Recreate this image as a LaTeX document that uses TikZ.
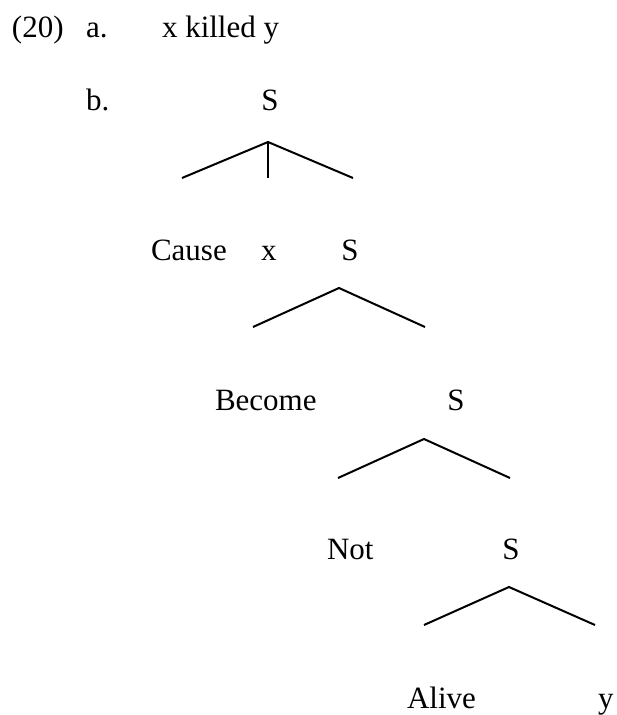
\documentclass[tikz,border=0pt]{standalone}
\usepackage{fontspec}
\setmainfont{Liberation Serif}
\begin{document}
\begin{tikzpicture}[x=1pt,y=-1pt,
  txt/.style={inner sep=0pt, outer sep=0pt, font=\fontsize{31}{36}\selectfont},
  lbl/.style={txt, anchor=base west},
  cat/.style={txt, anchor=base},
  branch/.style={line width=2pt, line cap=butt}]
\useasboundingbox (0,0) rectangle (616,715);
% (a)
\node[lbl] (num) at (12,37) {(20)};
\node[lbl] (la) at (86,37) {a.};
\node[lbl] (sent) at (162,37) {x killed y};
% (b)
\node[lbl] (lb) at (86,110) {b.};
\node[cat] (s1) at (270,110) {S};
\coordinate (a1) at (268,142);
\coordinate (l1) at (182,178);
\coordinate (m1) at (268,178);
\coordinate (r1) at (353,178);
\draw[branch] (l1) -- (a1) -- (r1);
\draw[branch] (a1) -- (m1);
\node[lbl] (cause) at (151,260) {Cause};
\node[lbl] (x) at (261,260) {x};
\node[cat] (s2) at (350,260) {S};
\coordinate (a2) at (339,288);
\coordinate (l2) at (253,327);
\coordinate (r2) at (425,327);
\draw[branch] (l2) -- (a2) -- (r2);
\node[lbl] (become) at (215,410) {Become};
\node[cat] (s3) at (456,410) {S};
\coordinate (a3) at (424,439);
\coordinate (l3) at (338,478);
\coordinate (r3) at (510,478);
\draw[branch] (l3) -- (a3) -- (r3);
\node[lbl] (not) at (327,559) {Not};
\node[cat] (s4) at (511,559) {S};
\coordinate (a4) at (509,587);
\coordinate (l4) at (424,625);
\coordinate (r4) at (595,625);
\draw[branch] (l4) -- (a4) -- (r4);
\node[lbl] (alive) at (407,708) {Alive};
\node[lbl] (y) at (598,708) {y};
\end{tikzpicture}
\end{document}
